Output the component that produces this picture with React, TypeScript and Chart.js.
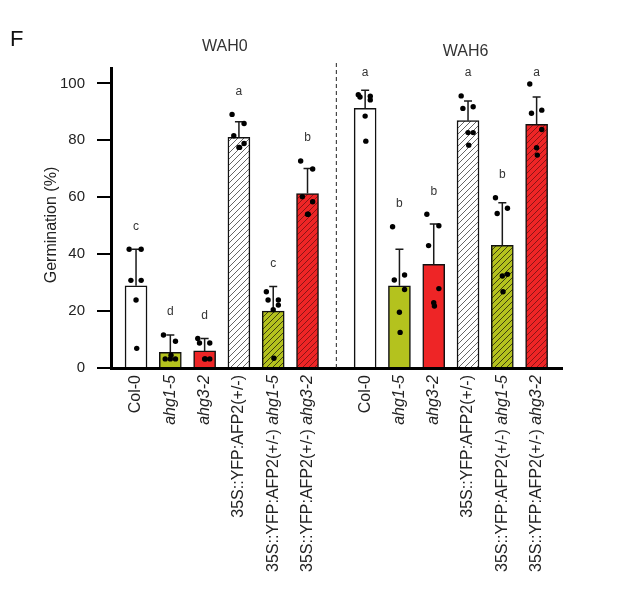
import { useEffect, useRef } from "react";
import { Chart, registerables } from "chart.js";

Chart.register(...registerables);

// ---------- data ----------
const categories = [
  "Col-0",
  "ahg1-5",
  "ahg3-2",
  "35S::YFP:AFP2(+/-)",
  "35S::YFP:AFP2(+/-) ahg1-5",
  "35S::YFP:AFP2(+/-) ahg3-2",
];
const groups = ["WAH0", "WAH6"];
const yTicks = [0, 20, 40, 60, 80, 100];

const wah0Means = [28.9, 5.5, 6.0, 81.0, 20.0, 61.3];
const wah0SD = [12.8, 6.1, 4.4, 5.5, 8.6, 8.8];
const wah0Points = [
  [41.7, 41.7, 30.8, 30.8, 23.9, 6.9],
  [11.6, 9.4, 3.2, 3.2, 3.2, 4.5],
  [10.4, 8.8, 8.8, 3.2, 3.2, 3.2],
  [89.1, 85.9, 81.6, 78.9, 77.5, 77.5],
  [26.8, 23.9, 23.9, 22.1, 20.5, 3.4],
  [72.7, 69.9, 60.2, 58.4, 54.0, 54.0],
];
const wah0Letters = ["c", "d", "d", "a", "c", "b"];

const wah6Means = [91.2, 28.9, 36.4, 86.9, 43.1, 85.6];
const wah6SD = [6.4, 12.8, 14.2, 6.9, 15.0, 9.6];
const wah6Points = [
  [96.0, 95.5, 95.2, 94.2, 88.5, 79.7],
  [49.6, 32.7, 30.9, 27.6, 19.6, 12.5],
  [54.0, 50.0, 43.0, 27.9, 22.9, 21.8],
  [95.6, 91.8, 91.2, 82.7, 82.7, 78.3],
  [59.8, 56.1, 54.3, 32.9, 32.3, 26.8],
  [99.8, 90.6, 89.5, 83.8, 77.4, 74.8],
];
const wah6Letters = ["a", "b", "b", "a", "b", "a"];

// ---------- layout / style ----------
const MEANS = [wah0Means, wah6Means];
const SDS = [wah0SD, wah6SD];
const POINTS = [wah0Points, wah6Points];
const LETTERS = [wah0Letters, wah6Letters];

const GROUP_SHIFT = 6.68;
const X_MIN = -0.73;
const X_MAX = 12.42;
const JITTER = [-0.2, 0.15, -0.15, 0.15, 0, 0.02];
const FONT = "'Liberation Sans', Arial, Helvetica, sans-serif";
const GREEN = "#b4c21e";
const RED = "#ee2526";
const TITLE_DX = [0.09, 0.43];
const TITLE_DY = [-21, -16];

const pos = (gi: number, i: number) => gi * GROUP_SHIFT + i;

function makeHatch(bg: string, line: string): CanvasPattern | string {
  const s = 6;
  const c = document.createElement("canvas");
  c.width = s;
  c.height = s;
  const g = c.getContext("2d");
  if (!g) return bg;
  g.fillStyle = bg;
  g.fillRect(0, 0, s, s);
  g.strokeStyle = line;
  g.lineWidth = 1;
  g.beginPath();
  g.moveTo(0, s);
  g.lineTo(s, 0);
  g.moveTo(-1, 1);
  g.lineTo(1, -1);
  g.moveTo(s - 1, s + 1);
  g.lineTo(s + 1, s - 1);
  g.stroke();
  const p = g.createPattern(c, "repeat");
  return p || bg;
}

const overlay = {
  id: "overlay",
  afterDatasetDraw(chart: any, args: any) {
    if (args.index !== 0) return;
    const { ctx } = chart;
    const x = chart.scales.x;
    const y = chart.scales.y;
    ctx.save();
    ctx.strokeStyle = "#1a1a1a";
    ctx.lineWidth = 1.5;
    MEANS.forEach((means, gi) => {
      means.forEach((m, i) => {
        const px = x.getPixelForValue(pos(gi, i));
        const y0 = y.getPixelForValue(m);
        const y1 = y.getPixelForValue(m + SDS[gi][i]);
        ctx.beginPath();
        ctx.moveTo(px, y0);
        ctx.lineTo(px, y1);
        ctx.moveTo(px - 4, y1);
        ctx.lineTo(px + 4, y1);
        ctx.stroke();
      });
    });
    ctx.restore();
  },
  afterDraw(chart: any) {
    const { ctx, chartArea } = chart;
    const x = chart.scales.x;
    const y = chart.scales.y;
    ctx.save();

    // dashed separator
    const sepX = x.getPixelForValue((categories.length - 1 + GROUP_SHIFT) / 2);
    ctx.strokeStyle = "#222";
    ctx.lineWidth = 1;
    ctx.setLineDash([4, 3]);
    ctx.beginPath();
    ctx.moveTo(sepX, chartArea.top - 5);
    ctx.lineTo(sepX, chartArea.bottom);
    ctx.stroke();
    ctx.setLineDash([]);

    // significance letters
    ctx.fillStyle = "#333";
    ctx.font = `12px ${FONT}`;
    ctx.textAlign = "center";
    ctx.textBaseline = "middle";
    LETTERS.forEach((letters, gi) => {
      letters.forEach((l, i) => {
        const top = Math.max(MEANS[gi][i] + SDS[gi][i], ...POINTS[gi][i]);
        const ly = Math.max(y.getPixelForValue(top) - 23, chartArea.top + 5);
        ctx.fillText(l, x.getPixelForValue(pos(gi, i)), ly);
      });
    });

    // group titles
    ctx.font = `16px ${FONT}`;
    ctx.fillStyle = "#333";
    groups.forEach((g, gi) => {
      const cx = x.getPixelForValue(pos(gi, (categories.length - 1) / 2) + TITLE_DX[gi]);
      ctx.fillText(g, cx, chartArea.top + TITLE_DY[gi]);
    });

    // panel letter
    ctx.font = `22px ${FONT}`;
    ctx.fillStyle = "#111";
    ctx.textAlign = "left";
    ctx.fillText("F", 2, 32);

    // y title
    ctx.save();
    ctx.translate(chartArea.left - 59, (chartArea.top + chartArea.bottom) / 2 + 7);
    ctx.rotate(-Math.PI / 2);
    ctx.font = `16px ${FONT}`;
    ctx.fillStyle = "#222";
    ctx.textAlign = "center";
    ctx.fillText("Germination (%)", 0, 0);
    ctx.restore();

    // x labels (genotype names in italics)
    groups.forEach((_, gi) => {
      categories.forEach((label, i) => {
        const parts = label.split(/(ahg\d-\d)/).filter((p) => p.length > 0);
        const px = x.getPixelForValue(pos(gi, i));
        ctx.save();
        ctx.translate(px, chartArea.bottom + 7);
        ctx.rotate(-Math.PI / 2);
        ctx.textBaseline = "middle";
        ctx.textAlign = "left";
        ctx.fillStyle = "#222";
        const fonts = parts.map((p) =>
          /^ahg\d-\d$/.test(p) ? `italic 16px ${FONT}` : `16px ${FONT}`
        );
        let total = 0;
        const widths = parts.map((p, k) => {
          ctx.font = fonts[k];
          const w = ctx.measureText(p).width;
          total += w;
          return w;
        });
        let cur = -total;
        parts.forEach((p, k) => {
          ctx.font = fonts[k];
          ctx.fillText(p, cur, 0);
          cur += widths[k];
        });
        ctx.restore();
      });
    });

    ctx.restore();
  },
};

export default function App() {
  const ref = useRef<HTMLCanvasElement>(null);
  useEffect(() => {
    if (!ref.current) return;
    const fills = [
      "#ffffff",
      GREEN,
      RED,
      makeHatch("#ffffff", "#666666"),
      makeHatch(GREEN, "#3d4010"),
      makeHatch(RED, "#8a1515"),
    ];
    const barData: { x: number; y: number }[] = [];
    const barColors: any[] = [];
    const dotData: { x: number; y: number }[] = [];
    MEANS.forEach((means, gi) => {
      means.forEach((m, i) => {
        barData.push({ x: pos(gi, i), y: m });
        barColors.push(fills[i]);
        POINTS[gi][i].forEach((v, k) => {
          dotData.push({ x: pos(gi, i) + JITTER[k % JITTER.length], y: v });
        });
      });
    });

    const chart = new Chart(ref.current, {
      type: "bar",
      data: {
        datasets: [
          {
            type: "bar",
            data: barData as any,
            backgroundColor: barColors,
            borderColor: "#111",
            borderWidth: 1.5,
            barThickness: 22,
            order: 1,
          } as any,
          {
            type: "scatter",
            data: dotData as any,
            pointRadius: 2.7,
            pointBackgroundColor: "#000",
            pointBorderWidth: 0,
            order: 0,
          } as any,
        ],
      },
      options: {
        animation: false,
        responsive: true,
        maintainAspectRatio: false,
        events: [],
        layout: { padding: { top: 60, right: 47, bottom: 224, left: 0 } },
        plugins: { legend: { display: false }, tooltip: { enabled: false } },
        scales: {
          x: {
            type: "linear",
            min: X_MIN,
            max: X_MAX,
            offset: false,
            grid: { display: false },
            ticks: { display: false },
            border: { display: true, color: "#000", width: 3 },
            afterFit: (s: any) => {
              s.height = 0;
            },
          },
          y: {
            type: "linear",
            min: 0,
            max: 105.4,
            afterBuildTicks: (s: any) => {
              s.ticks = yTicks.map((v) => ({ value: v }));
            },
            afterFit: (s: any) => {
              s.width = 103;
            },
            grid: {
              drawOnChartArea: false,
              drawTicks: true,
              tickLength: 14,
              color: "#000",
              lineWidth: 2,
            },
            border: { display: true, color: "#000", width: 3 },
            ticks: {
              padding: 12,
              color: "#222",
              font: { family: FONT, size: 15 },
            },
          },
        },
      } as any,
      plugins: [overlay],
    });
    return () => chart.destroy();
  }, []);

  return (
    <div style={{ width: 601, height: 584, position: "relative" }}>
      <canvas ref={ref} />
    </div>
  );
}
